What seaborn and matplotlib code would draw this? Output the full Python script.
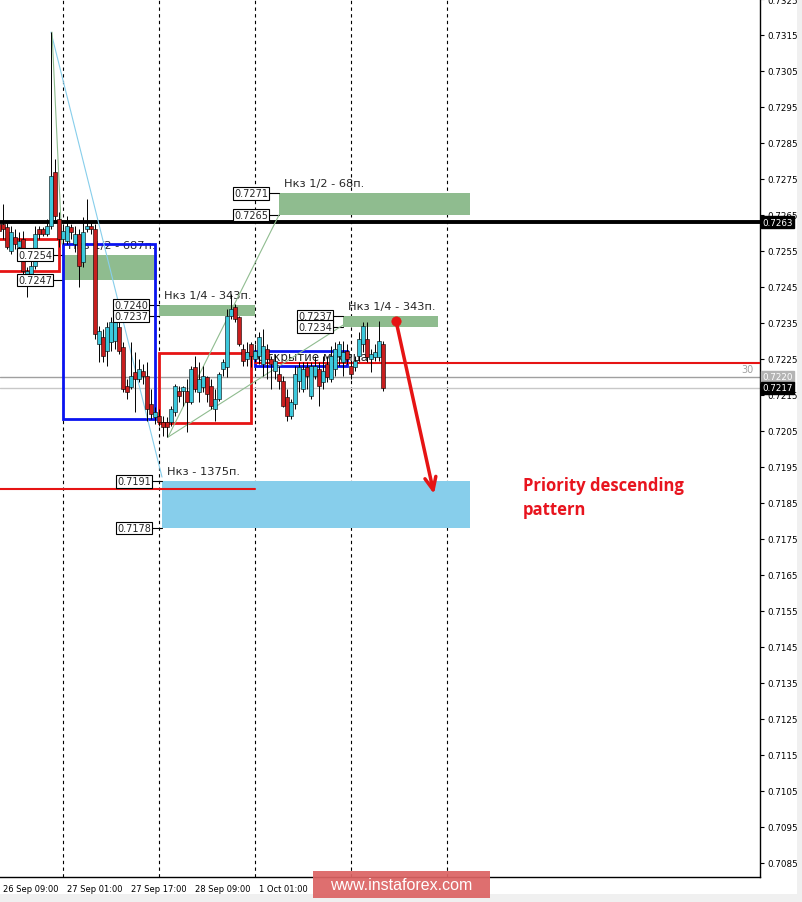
import numpy as np
import matplotlib
matplotlib.use("Agg")
import matplotlib.pyplot as plt
from matplotlib.patches import Rectangle
import seaborn as sns

sns.set_style("white")
plt.rcParams['font.family'] = ['DejaVu Sans']

# H1 candles, bar 0 = 26 Sep 09:00 (first bar is the one before it)
first_bar = -1
opens = [
    0.72625, 0.72625, 0.72617, 0.72550, 0.72589, 0.72561, 0.72583, 0.72453, 0.72464, 0.72508,
    0.72611, 0.72611, 0.72597, 0.72619, 0.72769, 0.72639, 0.72583, 0.72578, 0.72617, 0.72569,
    0.72597, 0.72519, 0.72611, 0.72619, 0.72611, 0.72292, 0.72311, 0.72272, 0.72297, 0.72300,
    0.72339, 0.72283, 0.72175, 0.72172, 0.72214, 0.72194, 0.72217, 0.72203, 0.72125, 0.72089,
    0.72092, 0.72075, 0.72075, 0.72075, 0.72103, 0.72161, 0.72161, 0.72161, 0.72131, 0.72228,
    0.72158, 0.72172, 0.72200, 0.72175, 0.72111, 0.72139, 0.72222, 0.72228, 0.72369, 0.72394,
    0.72367, 0.72278, 0.72250, 0.72292, 0.72250, 0.72258, 0.72236, 0.72278, 0.72250, 0.72217,
    0.72208, 0.72189, 0.72144, 0.72092, 0.72125, 0.72189, 0.72167, 0.72228, 0.72147, 0.72203,
    0.72222, 0.72186, 0.72236, 0.72194, 0.72222, 0.72258, 0.72242, 0.72272, 0.72231, 0.72228,
    0.72258, 0.72292, 0.72306, 0.72250, 0.72256, 0.72256, 0.72292,
]
highs = [
    0.72681, 0.72681, 0.72633, 0.72619, 0.72611, 0.72603, 0.72606, 0.72506, 0.72547, 0.72619,
    0.72619, 0.72617, 0.72639, 0.73158, 0.72806, 0.72658, 0.72625, 0.72647, 0.72625, 0.72619,
    0.72611, 0.72644, 0.72694, 0.72633, 0.72625, 0.72342, 0.72333, 0.72353, 0.72367, 0.72381,
    0.72361, 0.72297, 0.72194, 0.72297, 0.72269, 0.72250, 0.72236, 0.72242, 0.72167, 0.72117,
    0.72111, 0.72092, 0.72089, 0.72119, 0.72181, 0.72175, 0.72175, 0.72194, 0.72231, 0.72258,
    0.72242, 0.72231, 0.72203, 0.72194, 0.72167, 0.72214, 0.72250, 0.72389, 0.72431, 0.72403,
    0.72369, 0.72292, 0.72297, 0.72297, 0.72292, 0.72325, 0.72333, 0.72292, 0.72258, 0.72264,
    0.72231, 0.72203, 0.72167, 0.72139, 0.72231, 0.72242, 0.72242, 0.72242, 0.72242, 0.72258,
    0.72242, 0.72258, 0.72258, 0.72286, 0.72297, 0.72300, 0.72300, 0.72292, 0.72244, 0.72258,
    0.72325, 0.72353, 0.72353, 0.72278, 0.72292, 0.72356, 0.72300,
]
lows = [
    0.72583, 0.72583, 0.72556, 0.72542, 0.72556, 0.72547, 0.72486, 0.72422, 0.72453, 0.72500,
    0.72583, 0.72592, 0.72592, 0.72611, 0.72633, 0.72561, 0.72569, 0.72569, 0.72583, 0.72547,
    0.72450, 0.72506, 0.72603, 0.72597, 0.72306, 0.72242, 0.72242, 0.72231, 0.72272, 0.72278,
    0.72264, 0.72158, 0.72139, 0.72167, 0.72103, 0.72186, 0.72181, 0.72078, 0.72083, 0.72069,
    0.72064, 0.72036, 0.72033, 0.72064, 0.72092, 0.72131, 0.72119, 0.72047, 0.72125, 0.72158,
    0.72131, 0.72158, 0.72131, 0.72111, 0.72078, 0.72133, 0.72203, 0.72200, 0.72361, 0.72353,
    0.72286, 0.72231, 0.72231, 0.72228, 0.72242, 0.72236, 0.72203, 0.72194, 0.72167, 0.72194,
    0.72167, 0.72117, 0.72078, 0.72083, 0.72111, 0.72158, 0.72158, 0.72167, 0.72139, 0.72194,
    0.72119, 0.72167, 0.72186, 0.72186, 0.72203, 0.72231, 0.72203, 0.72236, 0.72194, 0.72217,
    0.72244, 0.72269, 0.72242, 0.72214, 0.72244, 0.72244, 0.72161,
]
closes = [
    0.72606, 0.72611, 0.72561, 0.72603, 0.72569, 0.72578, 0.72494, 0.72494, 0.72508, 0.72597,
    0.72597, 0.72597, 0.72619, 0.72758, 0.72647, 0.72583, 0.72606, 0.72619, 0.72603, 0.72597,
    0.72508, 0.72603, 0.72619, 0.72611, 0.72319, 0.72328, 0.72258, 0.72339, 0.72353, 0.72353,
    0.72272, 0.72167, 0.72158, 0.72203, 0.72194, 0.72222, 0.72203, 0.72111, 0.72097, 0.72103,
    0.72075, 0.72061, 0.72061, 0.72111, 0.72175, 0.72147, 0.72172, 0.72131, 0.72222, 0.72167,
    0.72194, 0.72203, 0.72153, 0.72119, 0.72139, 0.72208, 0.72242, 0.72369, 0.72389, 0.72361,
    0.72292, 0.72244, 0.72269, 0.72258, 0.72272, 0.72311, 0.72286, 0.72250, 0.72236, 0.72244,
    0.72189, 0.72119, 0.72092, 0.72131, 0.72208, 0.72228, 0.72222, 0.72203, 0.72231, 0.72231,
    0.72175, 0.72217, 0.72200, 0.72258, 0.72278, 0.72292, 0.72269, 0.72250, 0.72208, 0.72244,
    0.72306, 0.72342, 0.72256, 0.72264, 0.72269, 0.72300, 0.72170,
]

time_ticks = [0, 16, 32, 48, 64]
time_labels = ["26 Sep 09:00", "27 Sep 01:00", "27 Sep 17:00", "28 Sep 09:00", "1 Oct 01:00"]
day_breaks = [15, 39, 63, 87, 111]
price_ticks = [round(0.7085 + 0.001 * k, 4) for k in range(25)]

# target zones (bar range, price range, caption)
zone_start = [69, 15, 39, 85, 39.75]
zone_end = [116.75, 38.5, 63, 108.75, 116.75]
zone_low = [0.7265, 0.7247, 0.7237, 0.7234, 0.7178]
zone_high = [0.7271, 0.7254, 0.7240, 0.7237, 0.7191]
zone_text = ["Нкз 1/2 - 68п.", "Нкз 1/2 - 687п.", "Нкз 1/4 - 343п.", "Нкз 1/4 - 343п.", "Нкз - 1375п."]
zone_color = ["#8fbc8f", "#8fbc8f", "#8fbc8f", "#8fbc8f", "#87ceeb"]

# boxes drawn around consolidation ranges
box_start = [-5, 15, 39, 63]
box_end = [14, 38, 62, 86]
box_low = [0.72494, 0.72083, 0.72072, 0.72230]
box_high = [0.72583, 0.72569, 0.72267, 0.72272]
box_color = ["#e61414", "#0a14f0", "#e61414", "#0a14f0"]

level_black = 0.7263
month_open = 0.7224
lower_red = 0.71889
ask_price = 0.7220
bid_price = 0.7217

# thin trend lines (bar, price) pairs
trend_x = [(12, 39.75), (12.25, 14.75), (41.25, 69), (41.25, 85)]
trend_y = [(0.73158, 0.71922), (0.73158, 0.72569), (0.72033, 0.7265), (0.72033, 0.72344)]
trend_color = ["#87ceeb", "#8fbc8f", "#8fbc8f", "#8fbc8f"]

arrow_from = (98.25, 0.72356)
arrow_to = (107.75, 0.71875)

red = "#e61414"
bull = "#3cc8dc"
bear = "#c81e1e"

fig = plt.figure(figsize=(8.02, 9.03), dpi=100)
ax = fig.add_axes([0, 25 / 903, 760 / 802, 878 / 903])
ax.set_xlim(-0.75, 189.25)
ax.set_ylim(0.70811, 0.7325)

# day separators
for d in day_breaks:
    ax.axvline(d, color="black", lw=0.8, ls=(0, (3, 3)), zorder=1)

# zones
for x0, x1, lo, hi, txt, c in zip(zone_start, zone_end, zone_low, zone_high, zone_text, zone_color):
    ax.add_patch(Rectangle((x0, lo), x1 - x0, hi - lo, fc=c, ec="none", zorder=2))
    ax.annotate(txt, xy=(x0, hi), xytext=(5, 10), textcoords="offset pixels",
                fontsize=8.2, va="center", ha="left", zorder=3)
    for p in (hi, lo):
        ax.plot([x0 - 2.5, x0], [p, p], color="black", lw=0.8, zorder=3)
        ax.annotate(f"{p:.4f}", xy=(x0, p), xytext=(-11, 0), textcoords="offset pixels",
                    fontsize=7, va="center", ha="right", zorder=6,
                    bbox=dict(boxstyle="square,pad=0.12", fc="white", ec="black", lw=0.8))

# range boxes
for x0, x1, lo, hi, c in zip(box_start, box_end, box_low, box_high, box_color):
    ax.add_patch(Rectangle((x0, lo), x1 - x0, hi - lo, fill=False, ec=c, lw=2, zorder=3))
ax.text(63.5, 0.72258, "Открытие месяца", fontsize=8.5, va="center", ha="left", zorder=3)

# horizontal levels
ax.axhline(ask_price, color="#a0a0a0", lw=1, zorder=1)
ax.axhline(bid_price, color="#c8c8c8", lw=1, zorder=1)
ax.axhline(level_black, color="black", lw=2.8, zorder=3)
ax.plot([63, 189.25], [month_open, month_open], color=red, lw=1.5, zorder=3)
ax.plot([-0.75, 63], [lower_red, lower_red], color=red, lw=1.5, zorder=3)
ax.text(0.984, 0.72222, "30", transform=ax.get_yaxis_transform(), color="#a0a0a0",
        fontsize=7, ha="center", va="center")

# trend lines
for xs, ys, c in zip(trend_x, trend_y, trend_color):
    sns.lineplot(x=list(xs), y=list(ys), color=c, lw=0.8, ax=ax, zorder=3)

# candles
bars = np.arange(first_bar, first_bar + len(opens))
o = np.array(opens)
c = np.array(closes)
ax.vlines(bars, lows, highs, color="black", lw=0.7, zorder=4)
body_lo = np.minimum(o, c)
body_h = np.maximum(np.abs(c - o), 0.00002)
cols = [bull if cc >= oo else bear for oo, cc in zip(o, c)]
ax.bar(bars, body_h, bottom=body_lo, width=0.8, color=cols, edgecolor="black", lw=0.4, zorder=5)

# forecast arrow
ax.annotate("", xy=arrow_to, xytext=arrow_from,
            arrowprops=dict(arrowstyle="->,head_length=0.9,head_width=0.4", color=red, lw=2.5,
                            shrinkA=0, shrinkB=0), zorder=7)
sns.scatterplot(x=[arrow_from[0]], y=[arrow_from[1]], s=45, color=red, edgecolor=red, ax=ax, zorder=8)
ax.text(130, 0.71900, "Priority descending", color="#e8141e", fontsize=12, fontweight="bold",
        family=["Open Sans", "DejaVu Sans"], va="center", ha="left")
ax.text(130, 0.71833, "pattern", color="#e8141e", fontsize=12, fontweight="bold",
        family=["Open Sans", "DejaVu Sans"], va="center", ha="left")

# axes
for s in ("left", "top"):
    ax.spines[s].set_visible(False)
for s in ("right", "bottom"):
    ax.spines[s].set_color("black")
    ax.spines[s].set_linewidth(1)
ax.yaxis.tick_right()
ax.set_yticks(price_ticks)
ax.set_yticklabels([f"{v:.4f}" for v in price_ticks])
ax.tick_params(axis="y", length=3, width=0.8, pad=2, labelsize=6.3, colors="black")
ax.set_xticks(time_ticks)
ax.set_xticklabels(time_labels)
ax.tick_params(axis="x", length=3, width=0.8, pad=2, labelsize=6, colors="black")
for lbl in ax.get_xticklabels():
    lbl.set_horizontalalignment("left")
ax.set_xlabel("")
ax.set_ylabel("")
ax.grid(False)

# price tags on the scale
for p, bg in ((level_black, "black"), (ask_price, "#b4b4b4"), (bid_price, "black")):
    ax.text(1.003, p, f"{p:.4f}", transform=ax.get_yaxis_transform(), color="white",
            fontsize=6.3, va="center", ha="left", clip_on=False, zorder=9,
            bbox=dict(boxstyle="square,pad=0.15", fc=bg, ec=bg))

# window strips and watermark
fig.patches.append(Rectangle((0, 0), 1, 8 / 903, transform=fig.transFigure, fc="#f0f0f0", ec="none", zorder=0))
fig.patches.append(Rectangle((797 / 802, 0), 5 / 802, 1, transform=fig.transFigure, fc="#f0f0f0", ec="none", zorder=0))
fig.patches.append(Rectangle((313 / 802, 4 / 903), 177 / 802, 27 / 903, transform=fig.transFigure,
                             fc="#dc6464", ec="none", alpha=0.93, zorder=20))
fig.text(401 / 802, 17 / 903, "www.instaforex.com", color="white", fontsize=11.5,
         family=["Liberation Sans", "DejaVu Sans"], ha="center", va="center", zorder=21)

fig.savefig("out.png", dpi=100)
